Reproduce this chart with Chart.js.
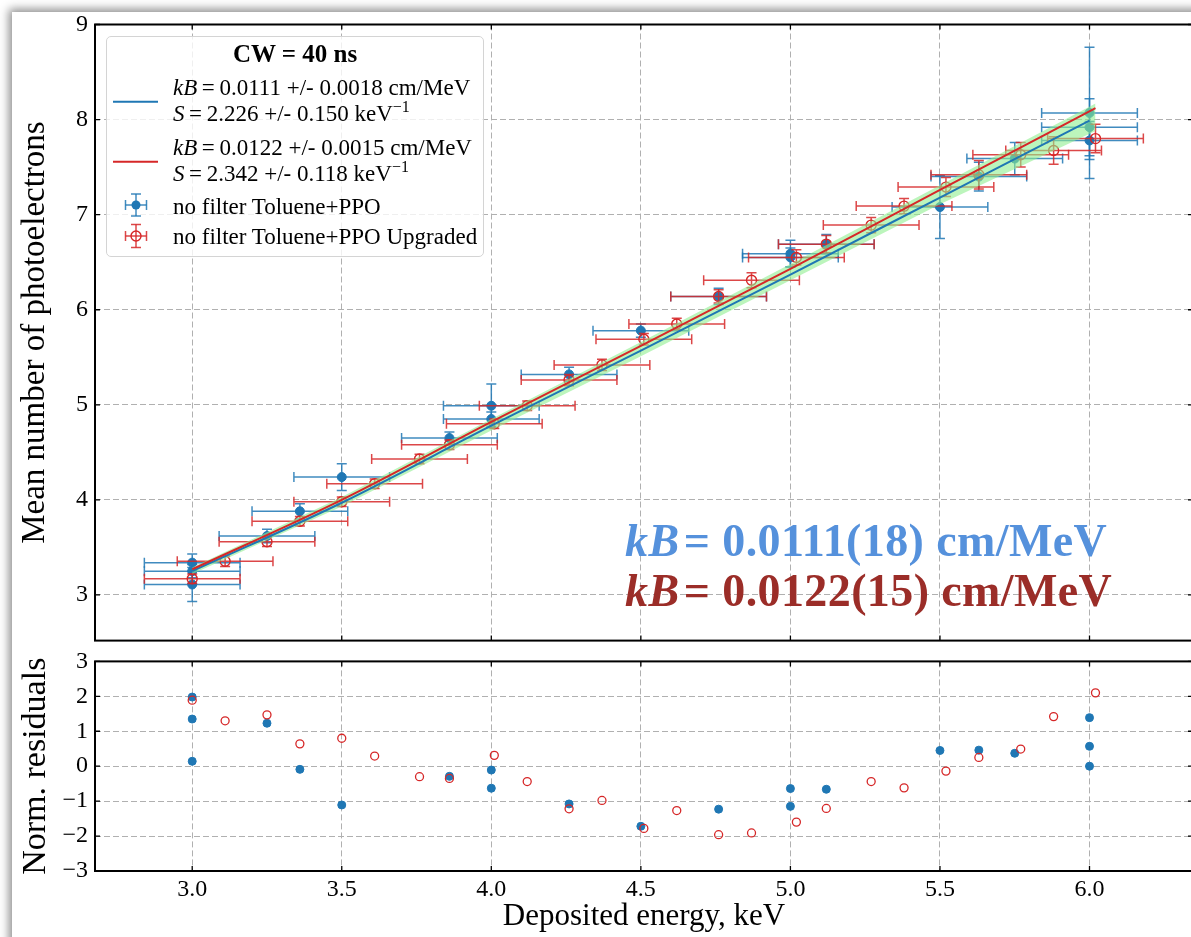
<!DOCTYPE html>
<html>
<head>
<meta charset="utf-8">
<title>Light yield vs deposited energy</title>
<script src="https://cdn.jsdelivr.net/npm/chart.js@4.4.1/dist/chart.umd.min.js"></script>
<style>
  html, body { margin:0; padding:0; background:#fff; }
  body { position:relative; width:1191px; height:937px; overflow:hidden;
         font-family:"Liberation Serif","Times New Roman",serif; color:#000; }
  #sheet { position:absolute; left:12px; top:12px; width:1240px; height:990px; background:#fff;
           box-shadow:0 0 9px 3px rgba(0,0,0,0.45); }
  canvas { position:absolute; left:0; }
  #mainChart { top:0; }
  #residChart { top:640px; }
  #legendBox { position:absolute; left:106px; top:36px; width:376px; height:219px;
               border:1px solid #d4d4d4; border-radius:5px; background:rgba(255,255,255,0.8); }
  #legendMarks { position:absolute; left:0; top:0; }
  .lg { position:absolute; left:173px; font-size:23px; line-height:23px; white-space:nowrap; }
  .lg .sup { position:relative; top:-9px; font-size:16px; }
  .lgTitle { position:absolute; left:106px; width:378px; text-align:center; font-weight:bold;
             font-size:25px; line-height:25px; white-space:nowrap; }
  .note { position:absolute; left:625px; font-size:46px; line-height:46px; font-weight:bold;
          letter-spacing:0.4px; white-space:nowrap; }
</style>
</head>
<body>
<div id="sheet"></div>
<canvas id="mainChart" width="1200" height="662"></canvas>
<canvas id="residChart" width="1200" height="297"></canvas>

<div id="legendBox"></div>
<svg id="legendMarks" width="500" height="260">
  <line x1="113" y1="101.7" x2="158" y2="101.7" stroke="#1f77b4" stroke-width="2"/>
  <line x1="113" y1="161.7" x2="158" y2="161.7" stroke="#d62728" stroke-width="2"/>
  <g stroke="rgba(31,119,180,0.85)" stroke-width="1.5" fill="none">
    <line x1="125.5" y1="205" x2="146.5" y2="205"/>
    <line x1="125.5" y1="200" x2="125.5" y2="210"/>
    <line x1="146.5" y1="200" x2="146.5" y2="210"/>
    <line x1="136" y1="194" x2="136" y2="216"/>
    <line x1="131" y1="194" x2="141" y2="194"/>
    <line x1="131" y1="216" x2="141" y2="216"/>
  </g>
  <circle cx="136" cy="205" r="4.5" fill="#1f77b4"/>
  <g stroke="rgba(214,39,40,0.85)" stroke-width="1.5" fill="none">
    <line x1="125.5" y1="236" x2="146.5" y2="236"/>
    <line x1="125.5" y1="231" x2="125.5" y2="241"/>
    <line x1="146.5" y1="231" x2="146.5" y2="241"/>
    <line x1="136" y1="224.5" x2="136" y2="247.5"/>
    <line x1="131" y1="224.5" x2="141" y2="224.5"/>
    <line x1="131" y1="247.5" x2="141" y2="247.5"/>
  </g>
  <circle cx="136" cy="236" r="5" fill="none" stroke="#d62728" stroke-width="1.4"/>
</svg>
<div class="lgTitle" style="top:41px">CW = 40 ns</div>
<div class="lg" style="top:76px"><i>kB</i>&thinsp;=&thinsp;0.0111 +/- 0.0018 cm/MeV</div>
<div class="lg" style="top:102px"><i>S</i>&thinsp;=&thinsp;2.226 +/- 0.150 keV<span class="sup">−1</span></div>
<div class="lg" style="top:136px"><i>kB</i>&thinsp;=&thinsp;0.0122 +/- 0.0015 cm/MeV</div>
<div class="lg" style="top:162px"><i>S</i>&thinsp;=&thinsp;2.342 +/- 0.118 keV<span class="sup">−1</span></div>
<div class="lg" style="top:195px">no filter Toluene+PPO</div>
<div class="lg" style="top:225px">no filter Toluene+PPO Upgraded</div>

<div class="note" style="top:518px;color:#5591dc"><i>kB</i>&#8202;= 0.0111(18) cm/MeV</div>
<div class="note" style="top:568px;color:#9b2d28"><i>kB</i>&#8202;= 0.0122(15) cm/MeV</div>

<script>
// ---- Toluene+PPO, no filter: energy (keV), mean photoelectrons, uncertainties, residuals
const blueE    = [3.0, 3.0, 3.0, 3.25, 3.36, 3.5, 3.86, 4.0, 4.0, 4.26, 4.5, 4.76, 5.0, 5.0, 5.12, 5.5, 5.63, 5.75, 6.0, 6.0, 6.0];
const blueN    = [3.34, 3.25, 3.11, 3.62, 3.88, 4.24, 4.65, 4.99, 4.85, 5.32, 5.78, 6.14, 6.59, 6.55, 6.69, 7.08, 7.40, 7.59, 8.07, 7.92, 7.78];
const blueNErr = [0.09, 0.07, 0.18, 0.07, 0.08, 0.14, 0.065, 0.23, 0.075, 0.075, 0.07, 0.085, 0.14, 0.10, 0.10, 0.33, 0.15, 0.17, 0.69, 0.30, 0.20];
const blueEErr = [0.16, 0.16, 0.16, 0.16, 0.16, 0.16, 0.16, 0.16, 0.16, 0.16, 0.16, 0.16, 0.16, 0.16, 0.16, 0.16, 0.16, 0.16, 0.16, 0.16, 0.16];
const blueRes  = [1.98, 1.35, 0.14, 1.23, -0.09, -1.11, -0.29, -0.11, -0.63, -1.08, -1.72, -1.23, -0.64, -1.15, -0.66, 0.45, 0.46, 0.37, 1.39, 0.57, 0.0];

// ---- Toluene+PPO upgraded
const redE    = [3.0, 3.11, 3.25, 3.36, 3.5, 3.61, 3.76, 3.86, 4.01, 4.12, 4.26, 4.37, 4.51, 4.62, 4.76, 4.87, 5.02, 5.12, 5.27, 5.38, 5.52, 5.63, 5.77, 5.88, 6.02];
const redN    = [3.17, 3.355, 3.56, 3.775, 3.98, 4.17, 4.43, 4.58, 4.80, 4.99, 5.26, 5.42, 5.69, 5.85, 6.14, 6.31, 6.55, 6.69, 6.89, 7.09, 7.29, 7.42, 7.63, 7.675, 7.80];
const redNErr = [0.05, 0.055, 0.05, 0.05, 0.05, 0.05, 0.05, 0.05, 0.05, 0.05, 0.06, 0.06, 0.06, 0.06, 0.07, 0.08, 0.08, 0.09, 0.08, 0.08, 0.10, 0.15, 0.13, 0.145, 0.15];
const redEErr = [0.16, 0.16, 0.16, 0.16, 0.16, 0.16, 0.16, 0.16, 0.16, 0.16, 0.16, 0.16, 0.16, 0.16, 0.16, 0.16, 0.16, 0.16, 0.16, 0.16, 0.16, 0.16, 0.16, 0.16, 0.16];
const redRes  = [1.89, 1.30, 1.47, 0.64, 0.80, 0.29, -0.30, -0.35, 0.31, -0.44, -1.22, -0.98, -1.78, -1.27, -1.96, -1.91, -1.60, -1.21, -0.44, -0.62, -0.14, 0.25, 0.49, 1.42, 2.10];

// ---- Birks fit curves and confidence band
const fitBlueE = [3.0, 3.5, 4.0, 4.5, 5.0, 5.5, 6.0];
const fitBlueN = [3.25, 3.97, 4.78, 5.57, 6.37, 7.18, 7.99];
const fitRedE  = [3.0, 3.5, 4.0, 4.5, 5.0, 5.5, 6.02];
const fitRedN  = [3.27, 4.00, 4.82, 5.62, 6.43, 7.26, 8.12];
const bandE    = [3.0, 3.5, 4.0, 4.5, 5.0, 5.5, 6.02];
const bandLow  = [3.22, 3.93, 4.73, 5.51, 6.31, 7.11, 7.88];
const bandHigh = [3.29, 4.03, 4.85, 5.66, 6.48, 7.31, 8.17];

// ---- axis ticks
const xTickValues = [3.0, 3.5, 4.0, 4.5, 5.0, 5.5, 6.0];
const xTickLabels = ['3.0', '3.5', '4.0', '4.5', '5.0', '5.5', '6.0'];
const yTickValues = [3, 4, 5, 6, 7, 8, 9];
const yTickLabels = ['3', '4', '5', '6', '7', '8', '9'];
const rTickValues = [-3, -2, -1, 0, 1, 2, 3];
const rTickLabels = ['\u22123', '\u22122', '\u22121', '0', '1', '2', '3'];

const X_MIN = 2.675, X_MAX = 6.346;
const Y_MIN = 2.52, Y_MAX = 9;
const R_MIN = -3, R_MAX = 3;

const BLUE = '#1f77b4', RED = '#d62728';
const SERIF = "'Liberation Serif', 'Times New Roman', serif";

Chart.defaults.font.family = SERIF;
Chart.defaults.color = '#000';

const pts = (xs, ys) => xs.map((x, i) => ({ x: x, y: ys[i] }));

// error bars drawn under each dataset's markers
const errorBars = {
  id: 'errorBars',
  beforeDatasetDraw(chart, args) {
    const ds = chart.data.datasets[args.index];
    if (!ds.errX && !ds.errY) return;
    const xs = chart.scales.x, ys = chart.scales.y, ctx = chart.ctx, a = chart.chartArea;
    const cap = 5;
    ctx.save();
    ctx.beginPath();
    ctx.rect(a.left, a.top, a.right - a.left, a.bottom - a.top);
    ctx.clip();
    ctx.strokeStyle = ds.errColor;
    ctx.lineWidth = 1.5;
    ds.data.forEach((p, i) => {
      const px = xs.getPixelForValue(p.x), py = ys.getPixelForValue(p.y);
      ctx.beginPath();
      if (ds.errX) {
        const x0 = xs.getPixelForValue(p.x - ds.errX[i]), x1 = xs.getPixelForValue(p.x + ds.errX[i]);
        ctx.moveTo(x0, py); ctx.lineTo(x1, py);
        ctx.moveTo(x0, py - cap); ctx.lineTo(x0, py + cap);
        ctx.moveTo(x1, py - cap); ctx.lineTo(x1, py + cap);
      }
      if (ds.errY) {
        const y0 = ys.getPixelForValue(p.y - ds.errY[i]), y1 = ys.getPixelForValue(p.y + ds.errY[i]);
        ctx.moveTo(px, y0); ctx.lineTo(px, y1);
        ctx.moveTo(px - cap, y0); ctx.lineTo(px + cap, y0);
        ctx.moveTo(px - cap, y1); ctx.lineTo(px + cap, y1);
      }
      ctx.stroke();
    });
    ctx.restore();
  }
};

// black axes frame with inward tick marks
const frameTicks = {
  id: 'frameTicks',
  afterDraw(chart) {
    const a = chart.chartArea, ctx = chart.ctx, xs = chart.scales.x, ys = chart.scales.y;
    const len = 5;
    ctx.save();
    ctx.strokeStyle = '#000';
    ctx.lineWidth = 1.3;
    ctx.beginPath();
    xs.ticks.forEach(t => {
      const px = xs.getPixelForValue(t.value);
      ctx.moveTo(px, a.bottom); ctx.lineTo(px, a.bottom - len);
      ctx.moveTo(px, a.top); ctx.lineTo(px, a.top + len);
    });
    ys.ticks.forEach(t => {
      const py = ys.getPixelForValue(t.value);
      ctx.moveTo(a.left, py); ctx.lineTo(a.left + len, py);
      ctx.moveTo(a.right, py); ctx.lineTo(a.right - len, py);
    });
    ctx.stroke();
    ctx.lineWidth = 2;
    ctx.strokeRect(a.left, a.top, a.right - a.left, a.bottom - a.top);
    ctx.restore();
  }
};

const gridOpts = { color: '#b0b0b0', lineWidth: 1, drawTicks: false };
const borderOpts = { display: false, dash: [6, 3] };

function xAxis(showLabels, height) {
  return {
    type: 'linear', min: X_MIN, max: X_MAX,
    afterBuildTicks: s => { s.ticks = xTickValues.map(v => ({ value: v })); },
    afterFit: s => { s.height = height; },
    grid: gridOpts, border: borderOpts,
    ticks: { display: showLabels, autoSkip: false, maxRotation: 0, padding: 4,
             font: { size: 24, family: SERIF }, callback: (v, i) => xTickLabels[i] },
    title: { display: showLabels, text: 'Deposited energy, keV',
             font: { size: 31, family: SERIF, lineHeight: 1 }, padding: { top: 0, bottom: 5 } }
  };
}

function yAxis(min, max, values, labels, titleText, titleSize) {
  return {
    type: 'linear', min: min, max: max,
    afterBuildTicks: s => { s.ticks = values.map(v => ({ value: v })); },
    afterFit: s => { s.width = 95; },
    grid: gridOpts, border: borderOpts,
    ticks: { autoSkip: false, padding: 7, font: { size: 24, family: SERIF },
             callback: (v, i) => labels[i] },
    title: { display: true, text: titleText,
             font: { size: titleSize, family: SERIF, lineHeight: 1 }, padding: { top: 19, bottom: 0 } }
  };
}

const commonOpts = {
  responsive: false, animation: false, events: [],
  plugins: { legend: { display: false }, tooltip: { enabled: false } }
};

new Chart(document.getElementById('mainChart'), {
  type: 'scatter',
  data: {
    datasets: [
      { label: 'kB=0.0122 fit', type: 'line', data: pts(fitRedE, fitRedN), borderColor: RED, borderWidth: 2,
        pointRadius: 0, fill: false, cubicInterpolationMode: 'monotone', order: 0 },
      { label: 'kB=0.0111 fit', type: 'line', data: pts(fitBlueE, fitBlueN), borderColor: BLUE, borderWidth: 2,
        pointRadius: 0, fill: false, cubicInterpolationMode: 'monotone', order: 1 },
      { label: 'band low', type: 'line', data: pts(bandE, bandLow), borderColor: 'rgba(0,0,0,0)', borderWidth: 0,
        pointRadius: 0, fill: false, order: 3 },
      { label: 'band high', type: 'line', data: pts(bandE, bandHigh), borderColor: 'rgba(0,0,0,0)', borderWidth: 0,
        pointRadius: 0, fill: '-1', backgroundColor: 'rgba(144,238,144,0.6)', order: 2 },
      { label: 'no filter Toluene+PPO Upgraded', data: pts(redE, redN), errX: redEErr, errY: redNErr,
        errColor: 'rgba(214,39,40,0.85)', showLine: false, pointRadius: 5, pointBorderWidth: 1.4,
        pointBackgroundColor: 'rgba(255,255,255,0)', pointBorderColor: RED, order: 4 },
      { label: 'no filter Toluene+PPO', data: pts(blueE, blueN), errX: blueEErr, errY: blueNErr,
        errColor: 'rgba(31,119,180,0.85)', showLine: false, pointRadius: 4.5, pointBorderWidth: 1,
        pointBackgroundColor: BLUE, pointBorderColor: BLUE, order: 5 }
    ]
  },
  options: Object.assign({}, commonOpts, {
    layout: { padding: { left: 0, top: 24.5, right: 7, bottom: 0 } },
    scales: {
      x: xAxis(false, 4),
      y: yAxis(Y_MIN, Y_MAX, yTickValues, yTickLabels, 'Mean number of photoelectrons', 33)
    }
  }),
  plugins: [errorBars, frameTicks]
});

new Chart(document.getElementById('residChart'), {
  type: 'scatter',
  data: {
    datasets: [
      { label: 'Upgraded residuals', data: pts(redE, redRes), showLine: false, pointRadius: 4,
        pointBorderWidth: 1.3, pointBackgroundColor: 'rgba(255,255,255,0)', pointBorderColor: RED, order: 0 },
      { label: 'residuals', data: pts(blueE, blueRes), showLine: false, pointRadius: 4,
        pointBorderWidth: 1, pointBackgroundColor: BLUE, pointBorderColor: BLUE, order: 1 }
    ]
  },
  options: Object.assign({}, commonOpts, {
    layout: { padding: { left: 0, top: 20, right: 7, bottom: 0 } },
    scales: {
      x: xAxis(true, 66),
      y: yAxis(R_MIN, R_MAX, rTickValues, rTickLabels, 'Norm. residuals', 34)
    }
  }),
  plugins: [frameTicks]
});
</script>
</body>
</html>
